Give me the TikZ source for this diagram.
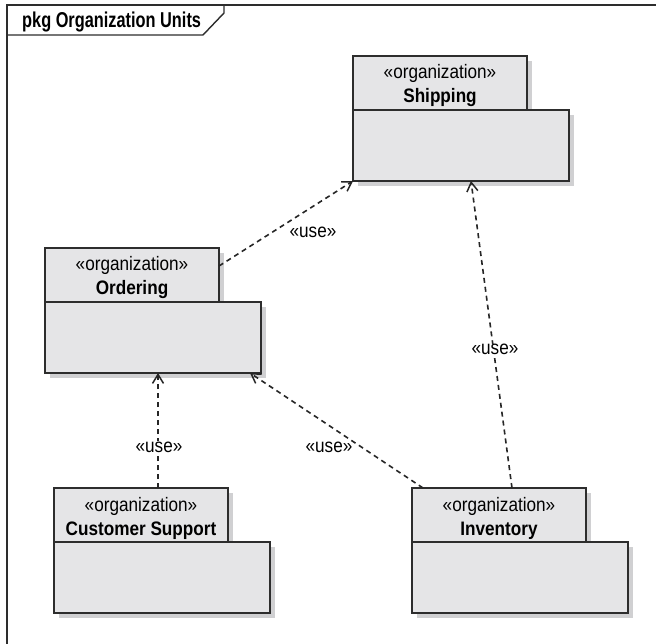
\documentclass[tikz,border=0pt]{standalone}
\usepackage{fontspec}
\setmainfont{Liberation Sans}
\newfontfamily\umlfont[FakeStretch=0.88]{Liberation Sans}
\newfontfamily\framefont[FakeStretch=0.76]{Liberation Sans}
\usetikzlibrary{arrows.meta,shadows}

\definecolor{pkgfill}{RGB}{229,229,231}
\definecolor{pkgshadow}{RGB}{208,208,210}
\definecolor{pkgline}{RGB}{45,45,45}

\tikzset{
  pkgbox/.style={draw=pkgline, fill=pkgfill, line width=1.4pt, rectangle,
    inner sep=0pt, outer sep=0pt, anchor=north west,
    drop shadow={shadow xshift=5pt, shadow yshift=-5pt, fill=pkgshadow, opacity=1}},
  pkgtab/.style={pkgbox, minimum width=174pt, minimum height=54pt},
  pkgbody/.style={pkgbox, minimum width=216pt, minimum height=71pt},
  stereo/.style={font=\umlfont\fontsize{19.5}{21}\selectfont, anchor=base, inner sep=0pt},
  pkgname/.style={font=\umlfont\bfseries\fontsize{19.5}{21}\selectfont, anchor=base, inner sep=0pt},
  usedep/.style={draw=black!85, line width=1.6pt, dash pattern=on 5pt off 4pt,
    -{Straight Barb[length=9pt,width=11pt,line width=1.5pt]}},
  uselabel/.style={font=\umlfont\fontsize{19.5}{21}\selectfont, anchor=base, inner sep=1pt},
  frameline/.style={draw=pkgline, line width=1.4pt},
}

% UML package: id, left x, top y, name
\newcommand\umlpackage[4]{%
  \node[pkgtab] (#1-tab) at (#2,#3) {};
  \node[pkgbody] (#1-body) at (#2,#3+54) {};
  \node[stereo] (#1-st) at (#2+87,#3+23) {«organization»};
  \node[pkgname] (#1-nm) at (#2+87,#3+47) {#4};
}

\begin{document}
\begin{tikzpicture}[x=1pt,y=-1pt]
  \useasboundingbox (0,0) rectangle (656,644);
  \fill[white] (0,0) rectangle (656,644);

  % diagram frame with its name tab
  \draw[frameline] (656,5) -- (7,5) -- (7,644);
  \draw[frameline] (7,35) -- (203,35) -- (224,13) -- (224,5);
  \node[font=\framefont\bfseries\fontsize{21.5}{23}\selectfont, anchor=base west, inner sep=0pt]
    (frame-name) at (22,28) {pkg Organization Units};

  % packages
  \umlpackage{ship}{353}{56}{Shipping}
  \umlpackage{ord}{45}{248}{Ordering}
  \umlpackage{cs}{54}{488}{Customer Support}
  \umlpackage{inv}{412}{488}{Inventory}

  % use dependencies
  \draw[usedep] ([yshift=9pt]ord-tab.east) -- (ship-body.south west);
  \node[uselabel] (l1) at (313,238) {«use»};

  \draw[usedep] ([xshift=13pt]inv-tab.north) -- ([xshift=10pt]ship-body.south);
  \node[uselabel, fill=white] (l2) at (495,355) {«use»};

  \draw[usedep] ([xshift=17pt]cs-tab.north) -- ([xshift=5pt]ord-body.south);
  \node[uselabel, fill=white] (l3) at (159,452) {«use»};

  \draw[usedep] ([xshift=11pt]inv-tab.north west) -- ([xshift=-11pt]ord-body.south east);
  \node[uselabel] (l4) at (329,452) {«use»};
\end{tikzpicture}
\end{document}
